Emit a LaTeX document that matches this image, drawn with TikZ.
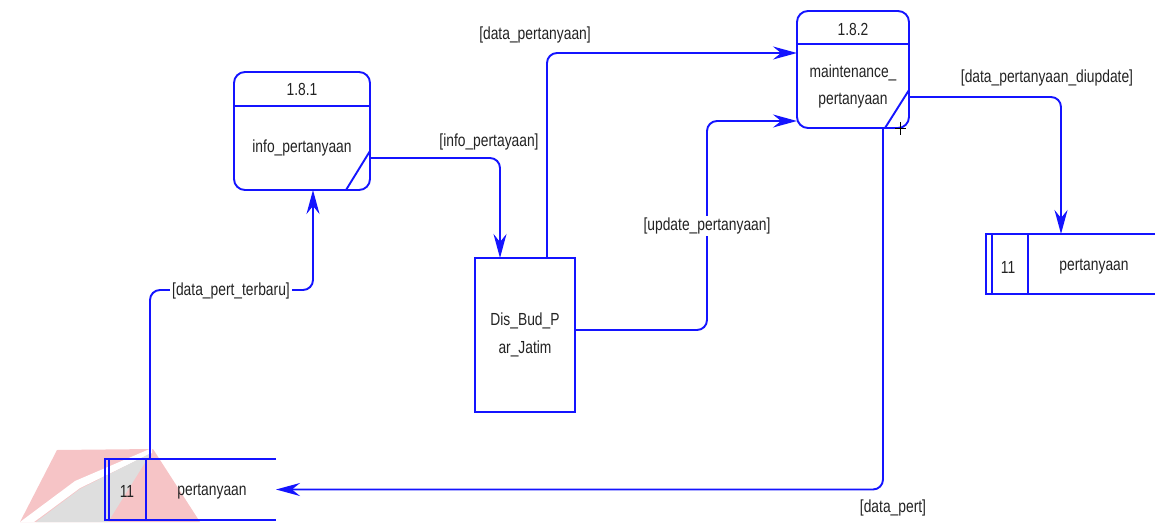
\documentclass[tikz,border=0pt]{standalone}
\usepackage{fontspec}
\setmainfont{Liberation Sans}[FakeStretch=0.79]
\usetikzlibrary{arrows.meta}
\definecolor{dfd}{RGB}{20,20,255}
\definecolor{txt}{RGB}{35,35,35}
\definecolor{wmred}{RGB}{246,196,198}
\definecolor{wmgrey}{RGB}{222,222,222}
\tikzset{
  proc/.style={draw=dfd, line width=1.9pt, rounded corners=11pt, minimum width=#1, inner sep=0pt, outer sep=0pt},
  extent/.style={draw=dfd, line width=1.9pt, inner sep=0pt, outer sep=0pt, minimum width=100pt, minimum height=154pt, align=center, text=txt, font=\fontsize{17.5}{28}\selectfont},
  storebox/.style={inner sep=0pt, outer sep=0pt, minimum width=171pt, minimum height=61pt},
  storeline/.style={draw=dfd, line width=1.6pt},
  boxline/.style={draw=dfd, line width=1.9pt},
  flow/.style={draw=dfd, line width=1.9pt, rounded corners=10pt, -{Stealth[length=24pt,width=13pt,inset=8pt]}},
  lbl/.style={text=txt, font=\fontsize{17.5}{20}\selectfont, inner sep=1pt},
  flbl/.style={lbl, fill=white, inner sep=2pt}
}
\begin{document}
\begin{tikzpicture}[x=1pt,y=-1pt]
\useasboundingbox (0,0) rectangle (1155,522);
% watermark
\fill[wmred] (57,450) -- (153,449) -- (200,522) -- (20,522) -- cycle;
\fill[white] (20,522) -- (75,481) -- (152,448) -- (152,453) -- (80,488) -- (34,522) -- cycle;
\fill[wmgrey] (36,522) -- (80,489) -- (151,453) -- (108,522) -- cycle;
% processes
\node[proc=136pt, minimum height=118pt] (p1) at (302,131) {};
\draw[boxline] ([yshift=-34pt]p1.north west) -- ([yshift=-34pt]p1.north east);
\draw[boxline] ([yshift=39pt]p1.south east) -- ([xshift=-24pt]p1.south east);
\node[lbl] (p1id) at ([yshift=42pt]p1.center) {1.8.1};
\node[lbl] (p1nm) at ([yshift=-17pt]p1.center) {info\_pertanyaan};

\node[proc=112pt, minimum height=117pt] (p2) at (853,69.5) {};
\draw[boxline] ([yshift=-33pt]p2.north west) -- ([yshift=-33pt]p2.north east);
\draw[boxline] ([yshift=38pt]p2.south east) -- ([xshift=-24pt]p2.south east);
\node[lbl] (p2id) at ([yshift=40.5pt]p2.center) {1.8.2};
\node[lbl] (p2nm1) at ([yshift=-3.5pt]p2.center) {maintenance\_};
\node[lbl] (p2nm2) at ([yshift=-31.5pt]p2.center) {pertanyaan};
\draw[black, line width=0.8pt] (895,128) -- (906,128) (900.5,122) -- (900.5,135);

% external entity
\node[extent] (ext) at (525,335) {Dis\_Bud\_P\\ar\_Jatim};

% data stores
\node[storebox] (s1) at (190.5,489.5) {};
\draw[storeline] (s1.north east) -- (s1.north west) -- (s1.south west) -- (s1.south east);
\draw[storeline] ([xshift=4pt]s1.north west) -- ([xshift=4pt]s1.south west);
\draw[storeline] ([xshift=41pt]s1.north west) -- ([xshift=41pt]s1.south west);
\node[lbl] (s1id) at ([xshift=22pt,yshift=-2pt]s1.west) {11};
\node[lbl] (s1nm) at ([xshift=107pt,yshift=-2pt]s1.west) {pertanyaan};

\node[storebox, minimum width=169pt, minimum height=60pt] (s2) at (1070.5,264) {};
\draw[storeline] (s2.north east) -- (s2.north west) -- (s2.south west) -- (s2.south east);
\draw[storeline] ([xshift=6pt]s2.north west) -- ([xshift=6pt]s2.south west);
\draw[storeline] ([xshift=42pt]s2.north west) -- ([xshift=42pt]s2.south west);
\node[lbl] (s2id) at ([xshift=22pt,yshift=-3pt]s2.west) {11};
\node[lbl] (s2nm) at ([xshift=108pt,yshift=-3pt]s2.west) {pertanyaan};

% flows
\draw[flow] ([yshift=-27pt]p1.east) -| ([xshift=-25pt]ext.north);
\node[lbl] (l1) at (489,142) {[info\_pertayaan]};

\draw[flow] ([xshift=22pt]ext.north) |- ([yshift=16.5pt]p2.west);
\node[lbl] (l2) at (535,35) {[data\_pertanyaan]};

\draw[flow] ([yshift=5pt]ext.east) -- ++(132,0) |- ([yshift=-51.5pt]p2.west);
\node[flbl] (l3) at (707,226) {[update\_pertanyaan]};

\draw[flow] ([yshift=-27.5pt]p2.east) -| ([xshift=-9.5pt]s2.north);
\node[lbl] (l4) at (1047,78) {[data\_pertanyaan\_diupdate]};

\draw[flow] ([xshift=30pt]p2.south) |- (s1.east);
\node[lbl] (l5) at (893,508) {[data\_pert]};

\draw[flow] ([xshift=-40.5pt]s1.north) -- ++(0,-169) -| ([xshift=11pt]p1.south);
\node[flbl] (l6) at (231,291) {[data\_pert\_terbaru]};
\end{tikzpicture}
\end{document}
